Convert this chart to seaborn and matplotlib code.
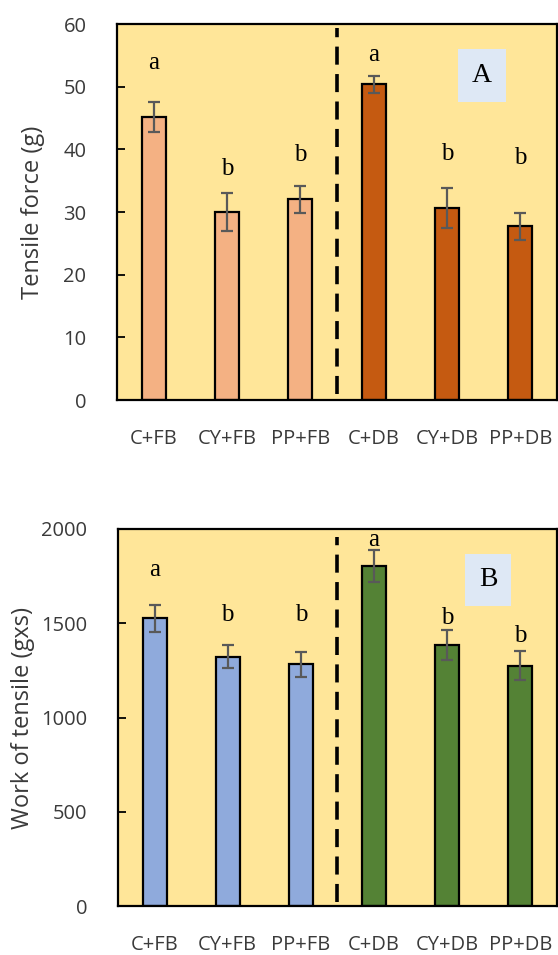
import numpy as np
import pandas as pd
import seaborn as sns
import matplotlib.pyplot as plt

# dados
categorias = ["C+FB", "CY+FB", "PP+FB", "C+DB", "CY+DB", "PP+DB"]
grupos = ["FB", "FB", "FB", "DB", "DB", "DB"]

forca_media = [45.1, 30.0, 32.0, 50.4, 30.7, 27.7]
forca_erro = [2.4, 3.05, 2.1, 1.35, 3.2, 2.15]
forca_letras = ["a", "b", "b", "a", "b", "b"]
forca_letras_y = [53.7, 36.8, 39.1, 55.1, 39.2, 38.6]

trabalho_media = [1526, 1322, 1282, 1805, 1383, 1275]
trabalho_erro = [72, 62, 65, 84, 80, 78]
trabalho_letras = ["a", "b", "b", "a", "b", "b"]
trabalho_letras_y = [1783, 1544, 1544, 1942, 1526, 1432]

fundo = "#FFE699"
cor_texto = "#3A3A3A"
fonte_sans = ["Open Sans", "DejaVu Sans"]
fonte_serif = ["Liberation Serif", "DejaVu Serif"]

sns.set_theme(style="white")
plt.rcParams["font.family"] = fonte_sans


def painel(ax, medias, erros, letras, letras_y, paleta, ymax, passo, ylabel,
           painel_letra, caixa, label_x, linha_lim):
    df = pd.DataFrame({"Tratamento": categorias, "Valor": medias, "Grupo": grupos})
    sns.barplot(data=df, x="Tratamento", y="Valor", hue="Grupo", palette=paleta,
                dodge=False, width=0.33, edgecolor="black", linewidth=1.6,
                saturation=1, legend=False, ax=ax)
    centros = [p.get_x() + p.get_width() / 2 for p in ax.patches if p.get_height() > 0]
    centros = sorted(centros)
    ax.errorbar(centros, medias, yerr=erros, fmt="none", ecolor="#595959",
                elinewidth=1.6, capsize=4.3, capthick=1.6, zorder=5)
    for x, y, t in zip(centros, letras_y, letras):
        ax.text(x, y, t, ha="center", va="center", fontsize=18,
                family=fonte_serif, color="black")

    ax.set_facecolor(fundo)
    ax.set_xlim(-0.5, len(categorias) - 0.5)
    ax.set_ylim(0, ymax)
    ax.set_yticks(np.arange(0, ymax + 1, passo))
    for s in ax.spines.values():
        s.set_color("black")
        s.set_linewidth(1.6)
    ax.tick_params(axis="y", direction="in", length=6, width=1.3, color="black",
                   pad=22, labelsize=14.5, labelcolor=cor_texto, left=True)
    ax.tick_params(axis="x", length=0, pad=21, labelsize=14.5, labelcolor=cor_texto)
    ax.set_xlabel("")
    ax.set_ylabel(ylabel, fontsize=17, color=cor_texto)
    ax.yaxis.set_label_coords(label_x, 0.5)

    ax.axvline(2.5, ymin=linha_lim[0], ymax=linha_lim[1], color="black", lw=2.6,
               linestyle=(0, (5, 2.6)), zorder=4)

    ax.text(caixa[0], caixa[1], painel_letra, transform=ax.transAxes, ha="center",
            va="center", fontsize=20, family=fonte_serif, color="black",
            bbox=dict(boxstyle="square,pad=0.5", facecolor="#DEE8F5",
                      edgecolor="none"))


fig = plt.figure(figsize=(5.58, 9.55), dpi=100)
ax1 = fig.add_axes([117 / 558, 1 - 400 / 955, 1 - 117 / 558 - 0.002, 376 / 955])
ax2 = fig.add_axes([118 / 558, 1 - 906 / 955, 1 - 118 / 558 - 0.002, 377 / 955])

painel(ax1, forca_media, forca_erro, forca_letras, forca_letras_y,
       {"FB": "#F4B183", "DB": "#C55A11"}, 60, 10, "Tensile force (g)", "A",
       (0.829, 0.862), -0.163, (0.016, 0.989))
painel(ax2, trabalho_media, trabalho_erro, trabalho_letras, trabalho_letras_y,
       {"FB": "#8FAADC", "DB": "#548235"}, 2000, 500, "Work of tensile (gxs)", "B",
       (0.843, 0.865), -0.188, (0.01, 0.979))

fig.savefig("out.png", dpi=100)
